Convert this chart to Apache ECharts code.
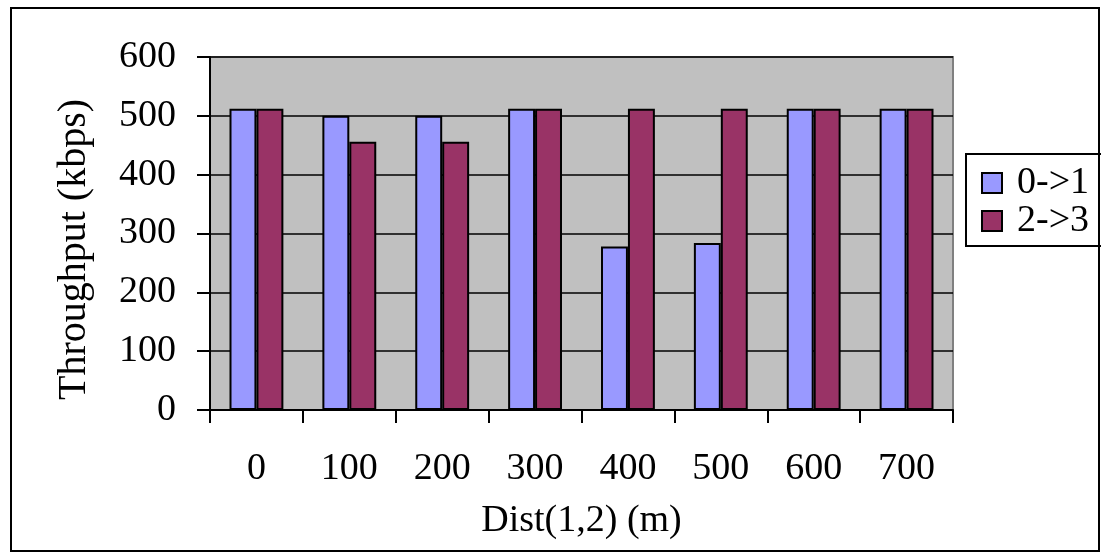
<!DOCTYPE html>
<html>
<head>
<meta charset="utf-8">
<script src="https://cdn.jsdelivr.net/npm/echarts@6/dist/echarts.min.js"></script>
<style>
  html, body { margin: 0; padding: 0; background: #fff; }
  #chart { width: 1101px; height: 553px; }
</style>
</head>
<body>
<div id="chart"></div>
<script>
// distances (m)
var categories = ["0", "100", "200", "300", "400", "500", "600", "700"];
// throughput (kbps) per flow
var flow01 = [512, 500, 500, 512, 278, 284, 512, 512];
var flow23 = [512, 456, 456, 512, 512, 512, 512, 512];
var yTicks = { min: 0, max: 600, interval: 100 };

var font = "Liberation Serif";
var chart = echarts.init(document.getElementById("chart"));
chart.setOption({
  animation: false,
  graphic: [
    {
      type: "rect",
      shape: { x: 11, y: 8, width: 1088, height: 543 },
      style: { fill: "none", stroke: "#000", lineWidth: 2 },
    },
  ],
  legend: {
    orient: "vertical",
    left: 966,
    top: 154,
    padding: [10, 20, 6, 15],
    itemGap: 0,
    itemWidth: 20,
    itemHeight: 20,
    borderColor: "#000",
    borderWidth: 2,
    icon: "rect",
    textStyle: {
      fontFamily: font,
      fontSize: 38,
      color: "#000",
      lineHeight: 34,
      padding: [0, 0, 0, 10],
    },
    data: ["0->1", "2->3"],
  },
  grid: {
    left: 210,
    right: 148,
    top: 57,
    bottom: 143,
    show: true,
    backgroundColor: "#c0c0c0",
    borderColor: "#808080",
    borderWidth: 2,
  },
  xAxis: {
    type: "category",
    data: categories,
    name: "Dist(1,2) (m)",
    nameLocation: "middle",
    nameGap: 92,
    nameTextStyle: { fontFamily: font, fontSize: 38, color: "#000" },
    axisLine: { lineStyle: { color: "#000", width: 2 } },
    axisTick: { show: true, length: 13, interval: 0, lineStyle: { color: "#000", width: 2 } },
    axisLabel: { fontFamily: font, fontSize: 38, color: "#000", margin: 40, interval: 0 },
  },
  yAxis: {
    type: "value",
    min: yTicks.min,
    max: yTicks.max,
    interval: yTicks.interval,
    name: "Throughput (kbps)",
    nameLocation: "middle",
    nameGap: 116,
    nameTextStyle: { fontFamily: font, fontSize: 40, color: "#000", padding: [0, 32, 0, 0] },
    axisLine: { show: true, lineStyle: { color: "#000", width: 2 } },
    axisTick: { show: true, length: 13, lineStyle: { color: "#000", width: 2 } },
    axisLabel: { fontFamily: font, fontSize: 38, color: "#000", margin: 34 },
    splitLine: { show: true, lineStyle: { color: "#000", width: 1.5 } },
  },
  series: [
    {
      name: "0->1",
      type: "bar",
      data: flow01,
      barWidth: "29%",
      barGap: "0%",
      itemStyle: { color: "#9999ff", borderColor: "#000", borderWidth: 2 },
    },
    {
      name: "2->3",
      type: "bar",
      data: flow23,
      barWidth: "29%",
      barGap: "0%",
      itemStyle: { color: "#993366", borderColor: "#000", borderWidth: 2 },
    },
  ],
});
</script>
</body>
</html>
